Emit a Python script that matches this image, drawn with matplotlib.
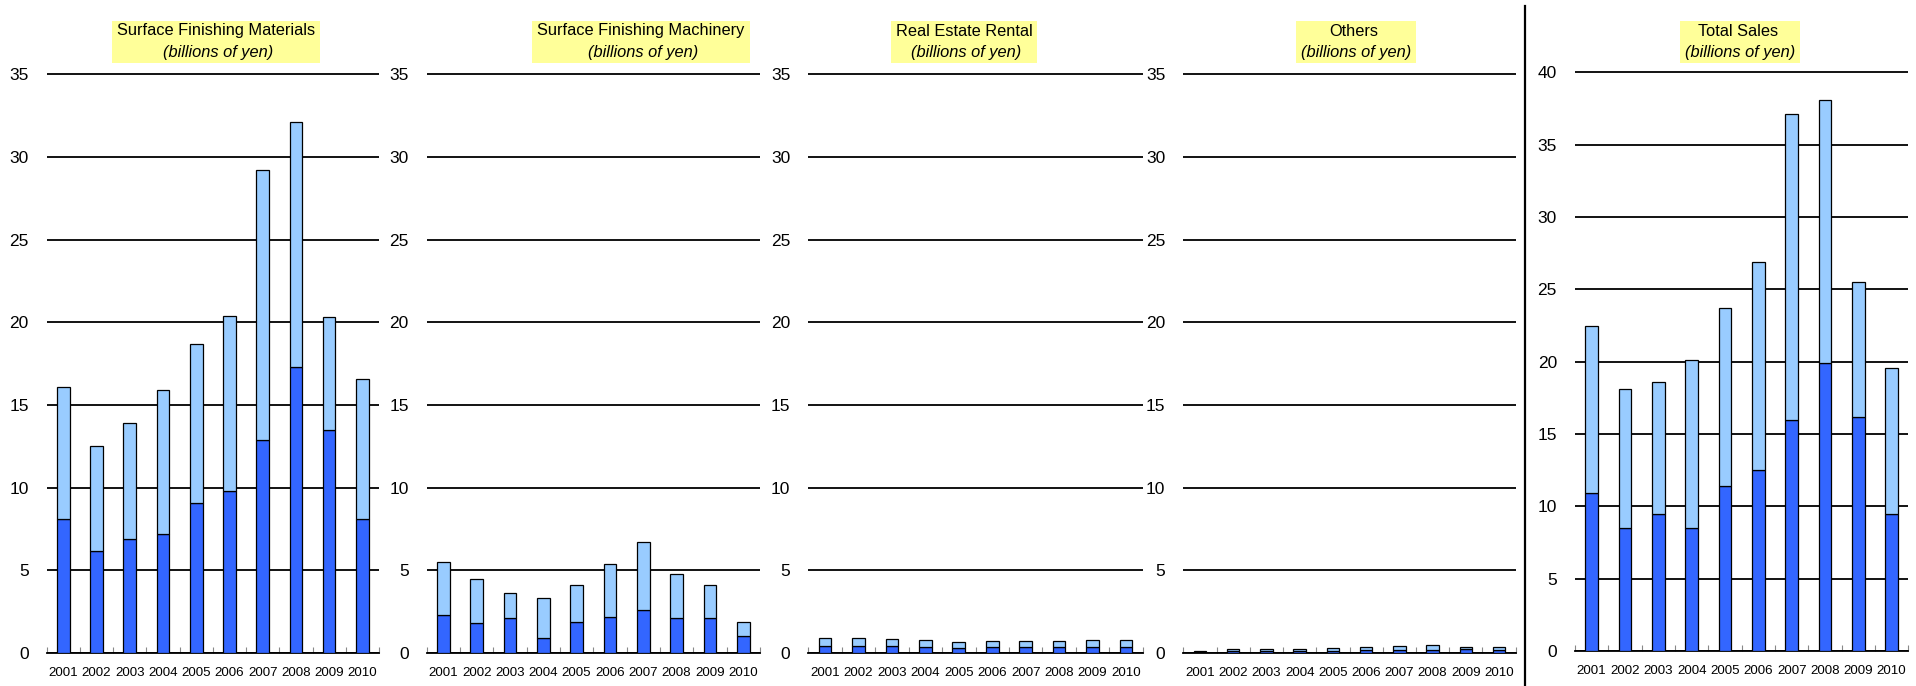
import matplotlib
matplotlib.use("Agg")
import matplotlib.pyplot as plt
from matplotlib.patches import Rectangle
from matplotlib.lines import Line2D
import numpy as np

plt.rcParams["font.family"] = ["Liberation Sans", "DejaVu Sans"]

# ---- data (billions of yen) -------------------------------------------
years = ["2001", "2002", "2003", "2004", "2005",
         "2006", "2007", "2008", "2009", "2010"]

materials_lower = [8.1, 6.2, 6.9, 7.2, 9.1, 9.8, 12.9, 17.3, 13.5, 8.1]
materials_total = [16.1, 12.5, 13.9, 15.9, 18.7, 20.4, 29.2, 32.1, 20.3, 16.6]

machinery_lower = [2.3, 1.8, 2.1, 0.9, 1.9, 2.2, 2.6, 2.1, 2.1, 1.0]
machinery_total = [5.5, 4.5, 3.6, 3.3, 4.1, 5.4, 6.7, 4.8, 4.1, 1.9]

rental_lower = [0.42, 0.42, 0.40, 0.38, 0.28, 0.36, 0.36, 0.36, 0.36, 0.36]
rental_total = [0.92, 0.92, 0.86, 0.76, 0.68, 0.74, 0.74, 0.74, 0.80, 0.78]

others_lower = [0.06, 0.10, 0.12, 0.12, 0.14, 0.18, 0.20, 0.20, 0.22, 0.16]
others_total = [0.14, 0.22, 0.26, 0.26, 0.32, 0.38, 0.44, 0.46, 0.38, 0.34]

sales_lower = [10.9, 8.5, 9.5, 8.5, 11.4, 12.5, 16.0, 19.9, 16.2, 9.5]
sales_total = [22.5, 18.1, 18.6, 20.1, 23.7, 26.9, 37.1, 38.1, 25.5, 19.6]

titles = ["Surface Finishing Materials", "Surface Finishing Machinery",
          "Real Estate Rental", "Others", "Total Sales"]
subtitle = "(billions of yen)"

# ---- layout (figure pixels) -------------------------------------------
W, H = 1916, 686
DARK = "#3366FF"
LIGHT = "#99CCFF"
BOX = "#FFFF99"

panels = [
    # lower, total, ymax, (left, right, top, bottom), title centre x
    (materials_lower, materials_total, 35, (46.7, 379.0, 72.7, 653.0), 216),
    (machinery_lower, machinery_total, 35, (426.7, 760.0, 72.7, 653.0), 641),
    (rental_lower, rental_total, 35, (808.3, 1142.7, 72.7, 653.0), 964),
    (others_lower, others_total, 35, (1183.3, 1515.7, 72.7, 653.0), 1354),
    (sales_lower, sales_total, 40, (1575.0, 1908.3, 70.7, 651.0), 1738),
]

fig = plt.figure(figsize=(W / 100, H / 100), dpi=100)
fig.patch.set_facecolor("white")

x = np.arange(len(years))
title_texts = []

for (lower, total, ymax, (l, r, t, b), tx), title in zip(panels, titles):
    ax = fig.add_axes([l / W, (H - b) / H, (r - l) / W, (b - t) / H])
    lower = np.asarray(lower)
    total = np.asarray(total)
    ax.bar(x, lower, width=0.38, color=DARK, edgecolor="black",
           linewidth=0.9, zorder=3)
    ax.bar(x, total - lower, bottom=lower, width=0.38, color=LIGHT,
           edgecolor="black", linewidth=0.9, zorder=3)

    ax.set_xlim(-0.5, len(years) - 0.5)
    ax.set_ylim(0, ymax * 1.003)
    ax.set_yticks(np.arange(0, ymax + 1, 5))
    ax.yaxis.grid(True, color="black", linewidth=1.3)
    ax.set_axisbelow(True)

    ax.set_xticks(x)
    ax.set_xticklabels(years)
    ax.set_xticks(np.arange(-0.5, len(years), 1), minor=True)
    ax.tick_params(axis="x", which="major", length=0, pad=10, labelsize=9.6)
    ax.tick_params(axis="x", which="minor", direction="in", length=4,
                   width=0.8, color="#888888")
    ax.tick_params(axis="y", length=0, pad=13, labelsize=12.5)

    for side in ("left", "right", "top"):
        ax.spines[side].set_visible(False)
    ax.spines["bottom"].set_linewidth(1.3)
    ax.spines["bottom"].set_color("black")
    ax.patch.set_alpha(0)

    t1 = fig.text(tx / W, 1 - 31 / H, title, ha="center", va="center",
                  fontsize=11.8, zorder=5)
    t2 = fig.text((tx + 2) / W, 1 - 53 / H, subtitle, ha="center",
                  va="center", fontsize=11.8, style="italic", zorder=5)
    title_texts.append((t1, t2))

# yellow label boxes sized to the two title lines
fig.canvas.draw()
renderer = fig.canvas.get_renderer()
for t1, t2 in title_texts:
    e1 = t1.get_window_extent(renderer)
    e2 = t2.get_window_extent(renderer)
    x0 = min(e1.x0, e2.x0) - 5
    x1 = max(e1.x1, e2.x1) + 5
    y0 = min(e1.y0, e2.y0) - 2
    y1 = max(e1.y1, e2.y1) + 2
    fig.patches.append(Rectangle((x0 / W, y0 / H), (x1 - x0) / W,
                                 (y1 - y0) / H, transform=fig.transFigure,
                                 facecolor=BOX, edgecolor="none", zorder=1))

# divider between the segment panels and the total
fig.add_artist(Line2D([1525 / W, 1525 / W], [0, 1 - 6 / H],
                      transform=fig.transFigure, color="black", linewidth=1.6))

fig.savefig("out.png", dpi=100, facecolor="white")
